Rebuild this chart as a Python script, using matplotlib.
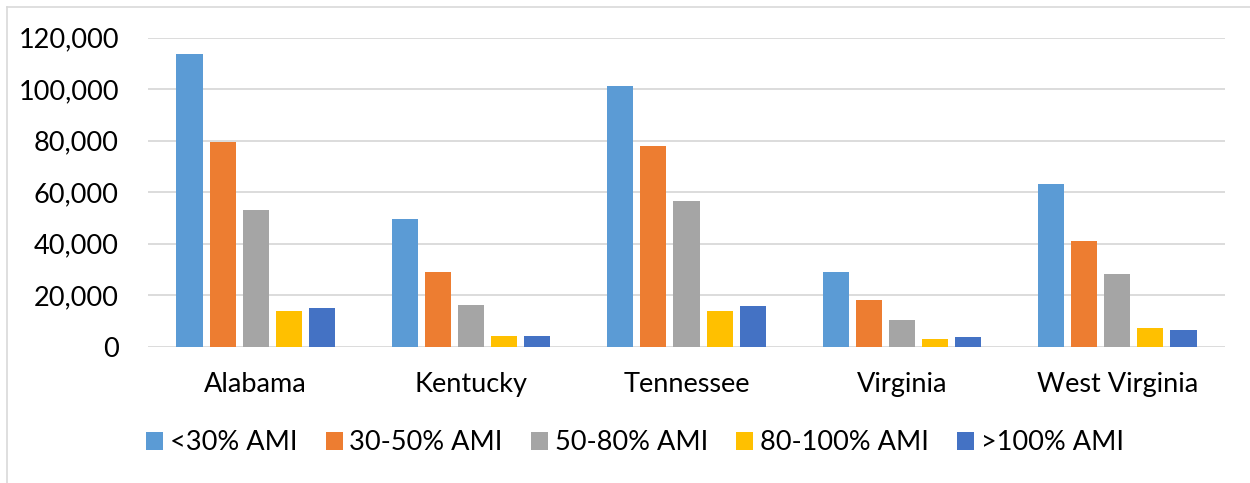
import numpy as np
import matplotlib.pyplot as plt
from matplotlib.patches import Patch
from matplotlib.lines import Line2D
from matplotlib.ticker import FuncFormatter

plt.rcParams['font.family'] = ['Lato', 'DejaVu Sans']

states = ['Alabama', 'Kentucky', 'Tennessee', 'Virginia', 'West Virginia']
income_bands = ['<30% AMI', '30-50% AMI', '50-80% AMI', '80-100% AMI', '>100% AMI']
band_colors = ['#5B9BD5', '#ED7D31', '#A5A5A5', '#FFC000', '#4472C4']

below_30 = [113700, 49600, 101400, 29100, 63300]
ami_30_50 = [79600, 29000, 77900, 18000, 41000]
ami_50_80 = [53100, 16100, 56600, 10500, 28100]
ami_80_100 = [13700, 4300, 13700, 3000, 7100]
above_100 = [15100, 4100, 15700, 3600, 6500]
series = [below_30, ami_30_50, ami_50_80, ami_80_100, above_100]

yticks = [0, 20000, 40000, 60000, 80000, 100000, 120000]

W, H = 1250, 483
fig = plt.figure(figsize=(W / 100, H / 100), dpi=100)
ax = fig.add_axes([148 / W, (H - 346.7) / H, (1225 - 148) / W, (346.7 - 37.7) / H])

x = np.arange(len(states))
bar_w = 0.121
step = 0.1537
for k, (vals, color) in enumerate(zip(series, band_colors)):
    ax.bar(x + (k - 2) * step, vals, width=bar_w, color=color, zorder=3)

ax.set_xlim(-0.5, len(states) - 0.5)
ax.set_ylim(0, 120000)
ax.set_yticks(yticks)
ax.yaxis.set_major_formatter(FuncFormatter(lambda v, p: f'{int(v):,}'))
ax.set_xticks(x)
ax.set_xticklabels(states)
ax.grid(axis='y', color='#d9d9d9', linewidth=1.3, zorder=0)
ax.tick_params(axis='y', length=0, pad=21, labelsize=19.5, labelcolor='#000000')
ax.tick_params(axis='x', length=0, pad=18, labelsize=19.5, labelcolor='#000000')
for side in ax.spines:
    ax.spines[side].set_visible(False)

handles = [Patch(facecolor=c, edgecolor='none') for c in band_colors]
fig.legend(handles, income_bands, ncol=5, loc='center',
           bbox_to_anchor=(635 / W, 1 - 443 / H), frameon=False, fontsize=19.5,
           handlelength=0.63, handleheight=0.63, handletextpad=0.24,
           columnspacing=1.05, borderpad=0)

# chart area outline (left and top edges)
edge = '#d9d9d9'
fig.add_artist(Line2D([6.7 / W, 6.7 / W], [0, 1 - 6.7 / H], color=edge, linewidth=1.2))
fig.add_artist(Line2D([6.7 / W, 1], [1 - 6.7 / H, 1 - 6.7 / H], color=edge, linewidth=1.2))

fig.savefig('out.png', dpi=100)
